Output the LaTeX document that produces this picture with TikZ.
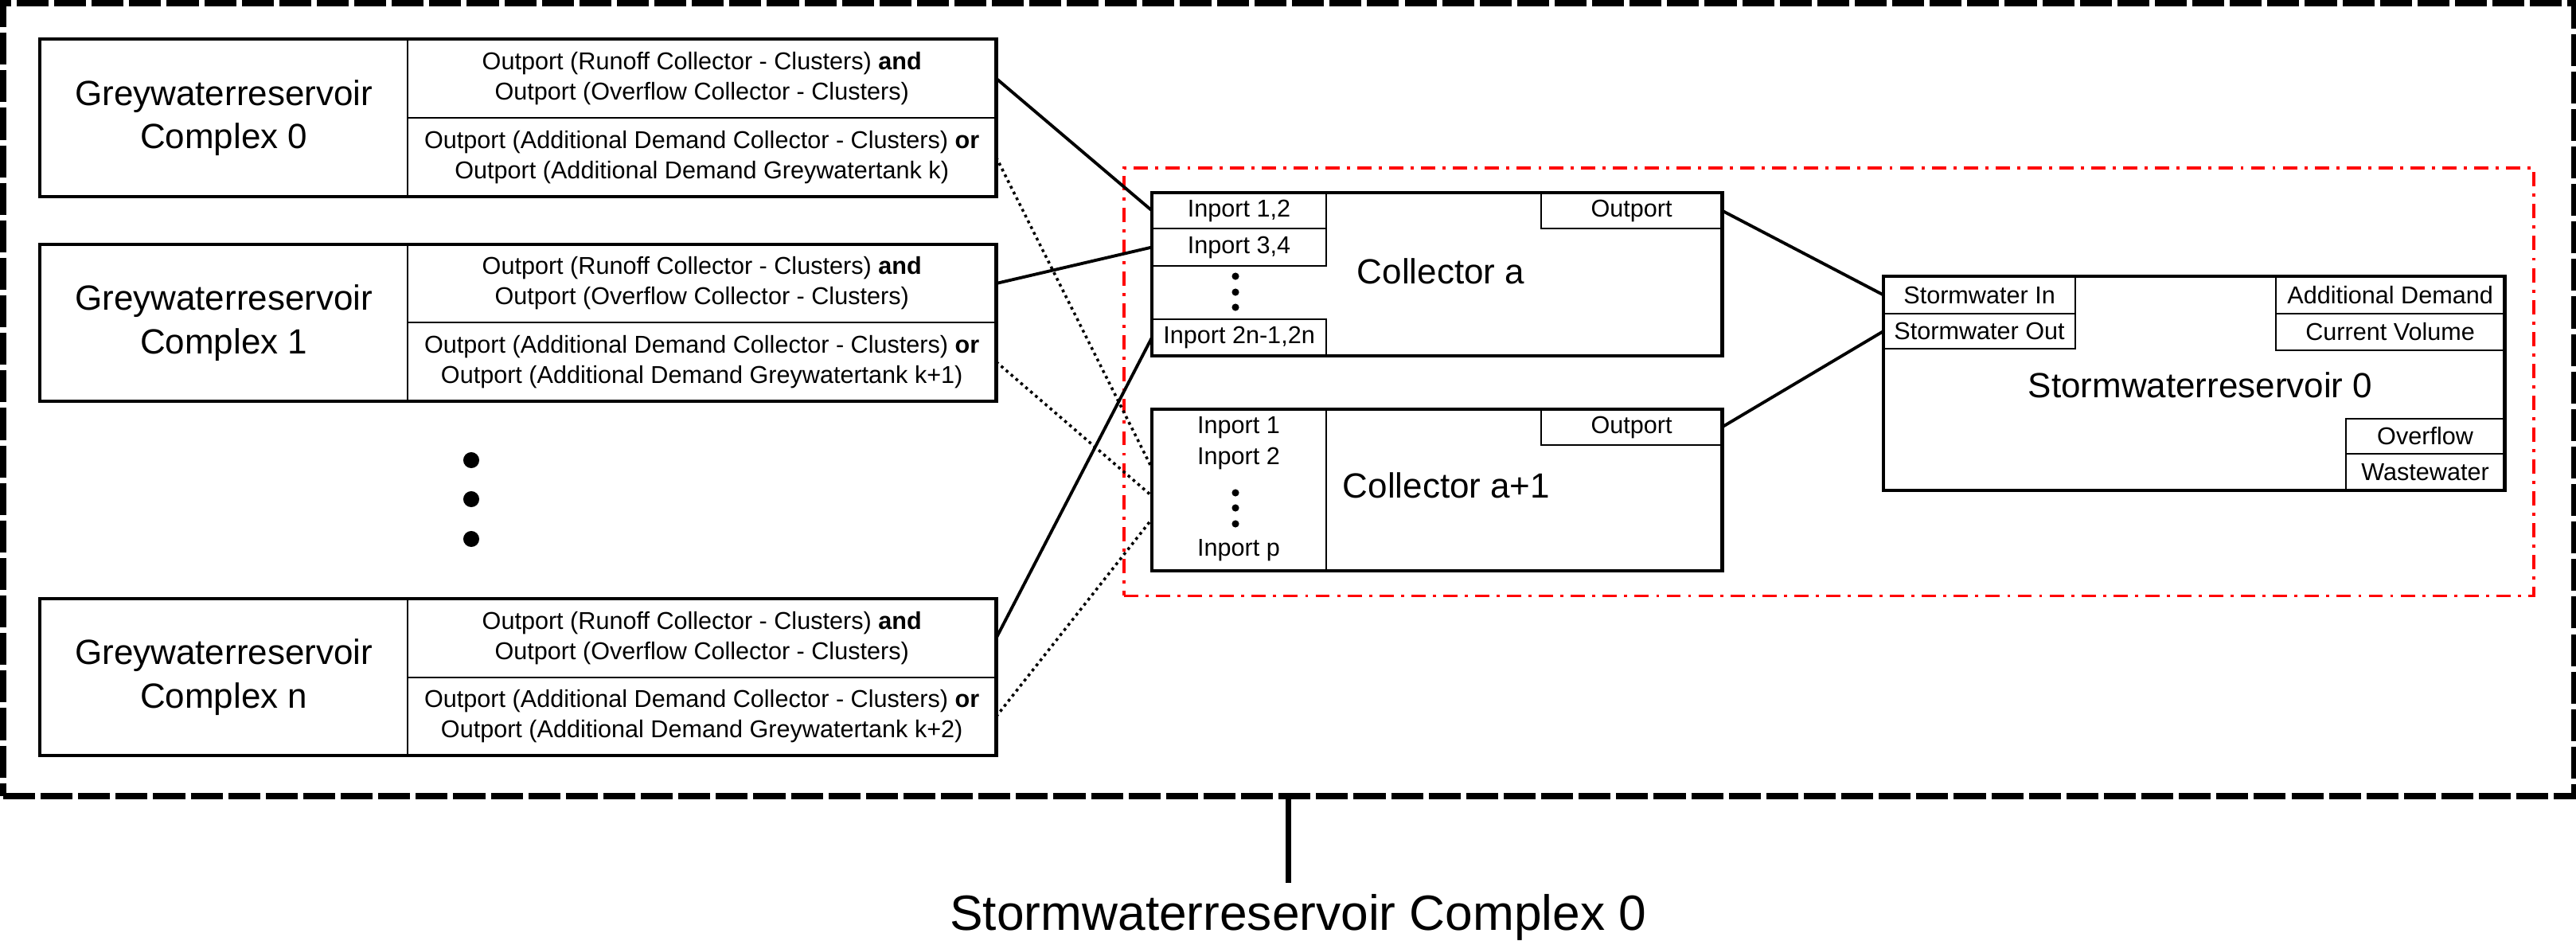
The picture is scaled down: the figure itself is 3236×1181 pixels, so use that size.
\documentclass[tikz,border=0pt]{standalone}
\usepackage{fontspec}
\setmainfont{Liberation Sans}
\begin{document}
\begin{tikzpicture}[x=0.01cm, y=-0.01cm,
  frame/.style={draw, line width=1.3pt, inner sep=0pt, outer sep=0pt, anchor=north west},
  cell/.style={draw, line width=0.6pt, inner sep=0pt, outer sep=0pt, anchor=north west, align=center, font=\fontsize{8.7}{10.8}\selectfont},
  small/.style={inner sep=0pt, font=\fontsize{8.7}{10.8}\selectfont},
  bigtext/.style={inner sep=0pt, align=center, font=\fontsize{12.5}{15.6}\selectfont},
  conn/.style={line width=1.1pt},
  dotl/.style={line width=1pt, dash pattern=on 1pt off 1.3pt},
  outerbox/.style={draw, line width=2.3pt, dash pattern=on 11.4pt off 2pt, inner sep=0pt, outer sep=0pt, anchor=north west},
  redbox/.style={draw=red, line width=1pt, dash pattern=on 5.1pt off 2.6pt on 1.1pt off 2.6pt, inner sep=0pt, outer sep=0pt, anchor=north west},
  stem/.style={line width=2pt}
]
\useasboundingbox (0,0) rectangle (3236,1181);

% outer frame and red frame
\node[outerbox, minimum width=32.28cm, minimum height=9.95cm] (outer) at (4,4) {};
\node[redbox, minimum width=17.70cm, minimum height=5.37cm] (red) at (1412,211) {};

% Greywaterreservoir Complex 0
\node[cell, minimum width=4.62cm, minimum height=1.98cm, font=\fontsize{12.5}{15.6}\selectfont] (g0name) at (50,49) {Greywaterreservoir\\Complex 0};
\node[cell, minimum width=7.39cm, minimum height=0.99cm] (g0top) at (512,49) {Outport (Runoff Collector - Clusters) \textbf{and}\\Outport (Overflow Collector - Clusters)};
\node[cell, minimum width=7.39cm, minimum height=0.99cm] (g0bot) at (512,148) {Outport (Additional Demand Collector - Clusters) \textbf{or}\\Outport (Additional Demand Greywatertank k)};
\node[frame, minimum width=12.01cm, minimum height=1.98cm] (g0) at (50,49) {};

% Greywaterreservoir Complex 1
\node[cell, minimum width=4.62cm, minimum height=1.97cm, font=\fontsize{12.5}{15.6}\selectfont] (g1name) at (50,307) {Greywaterreservoir\\Complex 1};
\node[cell, minimum width=7.39cm, minimum height=0.98cm] (g1top) at (512,307) {Outport (Runoff Collector - Clusters) \textbf{and}\\Outport (Overflow Collector - Clusters)};
\node[cell, minimum width=7.39cm, minimum height=0.99cm] (g1bot) at (512,405) {Outport (Additional Demand Collector - Clusters) \textbf{or}\\Outport (Additional Demand Greywatertank k+1)};
\node[frame, minimum width=12.01cm, minimum height=1.97cm] (g1) at (50,307) {};

% Greywaterreservoir Complex n
\node[cell, minimum width=4.62cm, minimum height=1.97cm, font=\fontsize{12.5}{15.6}\selectfont] (gnname) at (50,752) {Greywaterreservoir\\Complex n};
\node[cell, minimum width=7.39cm, minimum height=0.99cm] (gntop) at (512,752) {Outport (Runoff Collector - Clusters) \textbf{and}\\Outport (Overflow Collector - Clusters)};
\node[cell, minimum width=7.39cm, minimum height=0.98cm] (gnbot) at (512,851) {Outport (Additional Demand Collector - Clusters) \textbf{or}\\Outport (Additional Demand Greywatertank k+2)};
\node[frame, minimum width=12.01cm, minimum height=1.97cm] (gn) at (50,752) {};

% vertical ellipsis
\fill (592,578) circle (2.85pt);
\fill (592,627) circle (2.85pt);
\fill (592,677) circle (2.85pt);

% Collector a
\node[cell, minimum width=2.19cm, minimum height=0.45cm] (in12) at (1447,242) {Inport 1,2};
\node[cell, minimum width=2.19cm, minimum height=0.47cm] (in34) at (1447,287) {Inport 3,4};
\node[cell, minimum width=2.19cm, minimum height=0.46cm] (in2n) at (1447,401) {Inport 2n-1,2n};
\node[cell, minimum width=2.27cm, minimum height=0.45cm] (outa) at (1936,242) {Outport};
\node[frame, minimum width=7.16cm, minimum height=2.05cm] (ca) at (1447,242) {};
\node[bigtext] (calbl) at (1810,341) {Collector a};
\fill (1552,347) circle (1.3pt);
\fill (1552,367) circle (1.3pt);
\fill (1552,386) circle (1.3pt);

% Collector a+1
\node[cell, minimum width=2.19cm, minimum height=2.03cm] (ca1in) at (1447,514) {};
\node[small] (ip1) at (1556,537) {Inport 1};
\node[small] (ip2) at (1556,576) {Inport 2};
\node[small] (ipp) at (1556,691) {Inport p};
\fill (1552,619) circle (1.3pt);
\fill (1552,638) circle (1.3pt);
\fill (1552,658) circle (1.3pt);
\node[cell, minimum width=2.27cm, minimum height=0.45cm] (outa1) at (1936,514) {Outport};
\node[frame, minimum width=7.16cm, minimum height=2.03cm] (ca1) at (1447,514) {};
\node[bigtext] (ca1lbl) at (1817,610) {Collector a+1};

% Stormwaterreservoir 0
\node[cell, minimum width=2.41cm, minimum height=0.47cm] (swin) at (2366,347) {Stormwater In};
\node[cell, minimum width=2.41cm, minimum height=0.44cm] (swout) at (2366,394) {Stormwater Out};
\node[cell, minimum width=2.87cm, minimum height=0.47cm] (adddem) at (2859,347) {Additional Demand};
\node[cell, minimum width=2.87cm, minimum height=0.46cm] (curvol) at (2859,394) {Current Volume};
\node[cell, minimum width=1.99cm, minimum height=0.44cm] (ovfl) at (2947,526) {Overflow};
\node[cell, minimum width=1.99cm, minimum height=0.46cm] (waste) at (2947,570) {Wastewater};
\node[frame, minimum width=7.80cm, minimum height=2.69cm] (sw) at (2366,347) {};
\node[bigtext] (swlbl) at (2764,484) {Stormwaterreservoir 0};

% free ends of dotted connectors on Collector a+1
\coordinate (d1) at (1447,588);
\coordinate (d2) at (1447,623);
\coordinate (d3) at (1447,652);

% connectors
\draw[conn] (g0top.east) -- (in12.west);
\draw[conn] (g1top.east) -- (in34.west);
\draw[conn] (gntop.east) -- (in2n.west);
\draw[dotl] (g0bot.east) -- (d1);
\draw[dotl] (g1bot.east) -- (d2);
\draw[dotl] (gnbot.east) -- (d3);
\draw[conn] (outa.east) -- (swin.west);
\draw[conn] (outa1.east) -- (swout.west);

% bottom label
\node[inner sep=3.7pt, anchor=base, font=\fontsize{17.7}{21}\selectfont] (lbl) at (1631,1168) {Stormwaterreservoir Complex 0};
\draw[stem] (outer.south) -- (outer.south |- lbl.north);
\end{tikzpicture}
\end{document}
